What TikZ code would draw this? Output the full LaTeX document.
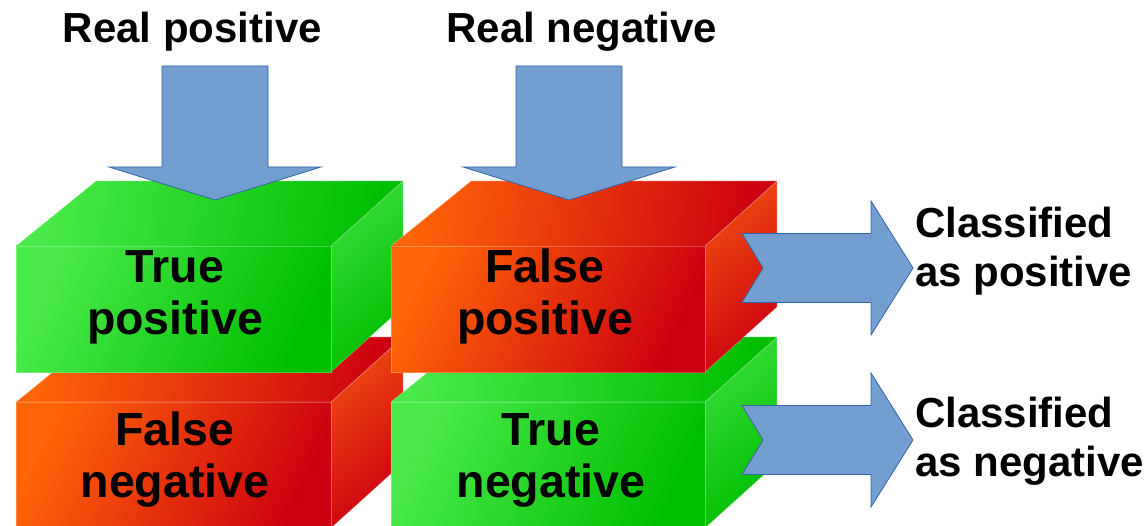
\documentclass[tikz,border=0pt]{standalone}
\usepackage{fontspec}
\setmainfont{Liberation Sans}
\definecolor{gA}{HTML}{4AEA4A}
\definecolor{gB}{HTML}{00BE00}
\definecolor{gC}{HTML}{38DC38}
\definecolor{rA}{HTML}{FF6408}
\definecolor{rB}{HTML}{CC0010}
\definecolor{rC}{HTML}{F04A10}
\definecolor{arrfill}{HTML}{729FCF}
\definecolor{arredge}{HTML}{3465A4}
\tikzset{
  faceedge/.style={draw=white, draw opacity=0.25, line width=0.8pt},
  blockarrow/.style={fill=arrfill, draw=arredge, line width=0.8pt, line join=miter},
  boxlabel/.style={font=\fontsize{46.5}{52}\selectfont\bfseries, align=center, inner sep=0pt},
  sidelabel/.style={font=\fontsize{42}{49}\selectfont\bfseries, align=left, inner sep=0pt},
  toplabel/.style={font=\fontsize{42}{48}\selectfont\bfseries, inner sep=0pt},
}
% #1 x0, #2 x1, #3 y top, #4 y bottom, #5 light, #6 dark, #7 side light
\newcommand\drawcube[7]{%
  \shade[left color=#7, right color=#6, shading angle=40, faceedge]
    (#2,#3) -- (#2+72,#3-65) -- (#2+72,#4-65) -- (#2,#4) -- cycle;
  \shade[left color=#5, right color=#6, shading angle=80, faceedge]
    (#1,#3) -- (#1+80,#3-65) -- (#2+72,#3-65) -- (#2,#3) -- cycle;
  \shade[left color=#5, right color=#6, shading angle=65, faceedge]
    (#1,#3) rectangle (#2,#4);
}
\begin{document}
\begin{tikzpicture}[x=1pt,y=-1pt]
\useasboundingbox (0,0) rectangle (1148,526);
\clip (0,0) rectangle (1148,526);
% bottom row
\drawcube{16}{331}{402}{528}{rA}{rB}{rC}
\drawcube{391}{705}{402}{528}{gA}{gB}{gC}
% top row
\drawcube{16}{331}{246}{372}{gA}{gB}{gC}
\drawcube{391}{705}{246}{372}{rA}{rB}{rC}
% labels in boxes (anchor = baseline of last line)
\node[boxlabel, anchor=base] (tp) at (175,335) {True\\positive};
\node[boxlabel, anchor=base] (fp) at (545,335) {False\\positive};
\node[boxlabel, anchor=base] (fn) at (175,497) {False\\negative};
\node[boxlabel, anchor=base] (tn) at (551,497) {True\\negative};
% top labels
\node[toplabel, anchor=base] (rp) at (192.5,43) {Real positive};
\node[toplabel, anchor=base] (rn) at (582,43) {Real negative};
% side labels
\node[sidelabel, anchor=base west] (cp) at (915,287) {Classified\\as positive};
\node[sidelabel, anchor=base west] (cn) at (915,476) {Classified\\as negative};
% down arrows
\coordinate (d1) at (215,66);
\coordinate (d2) at (569,66);
\foreach \c in {d1,d2}{
  \draw[blockarrow] ([xshift=-53pt]\c) -- ([xshift=53pt]\c) -- ([xshift=53pt,yshift=-101pt]\c)
    -- ([xshift=106pt,yshift=-101pt]\c) -- ([yshift=-134pt]\c) -- ([xshift=-106pt,yshift=-101pt]\c)
    -- ([xshift=-53pt,yshift=-101pt]\c) -- cycle;
}
% right arrows
\coordinate (a1) at (742,268);
\coordinate (a2) at (742,440);
\foreach \c in {a1,a2}{
  \draw[blockarrow] ([yshift=34.5pt]\c) -- ([xshift=129pt,yshift=34.5pt]\c) -- ([xshift=129pt,yshift=67pt]\c)
    -- ([xshift=171pt]\c) -- ([xshift=129pt,yshift=-67pt]\c) -- ([xshift=129pt,yshift=-34.5pt]\c)
    -- ([yshift=-34.5pt]\c) -- ([xshift=21pt]\c) -- cycle;
}
\end{tikzpicture}
\end{document}
